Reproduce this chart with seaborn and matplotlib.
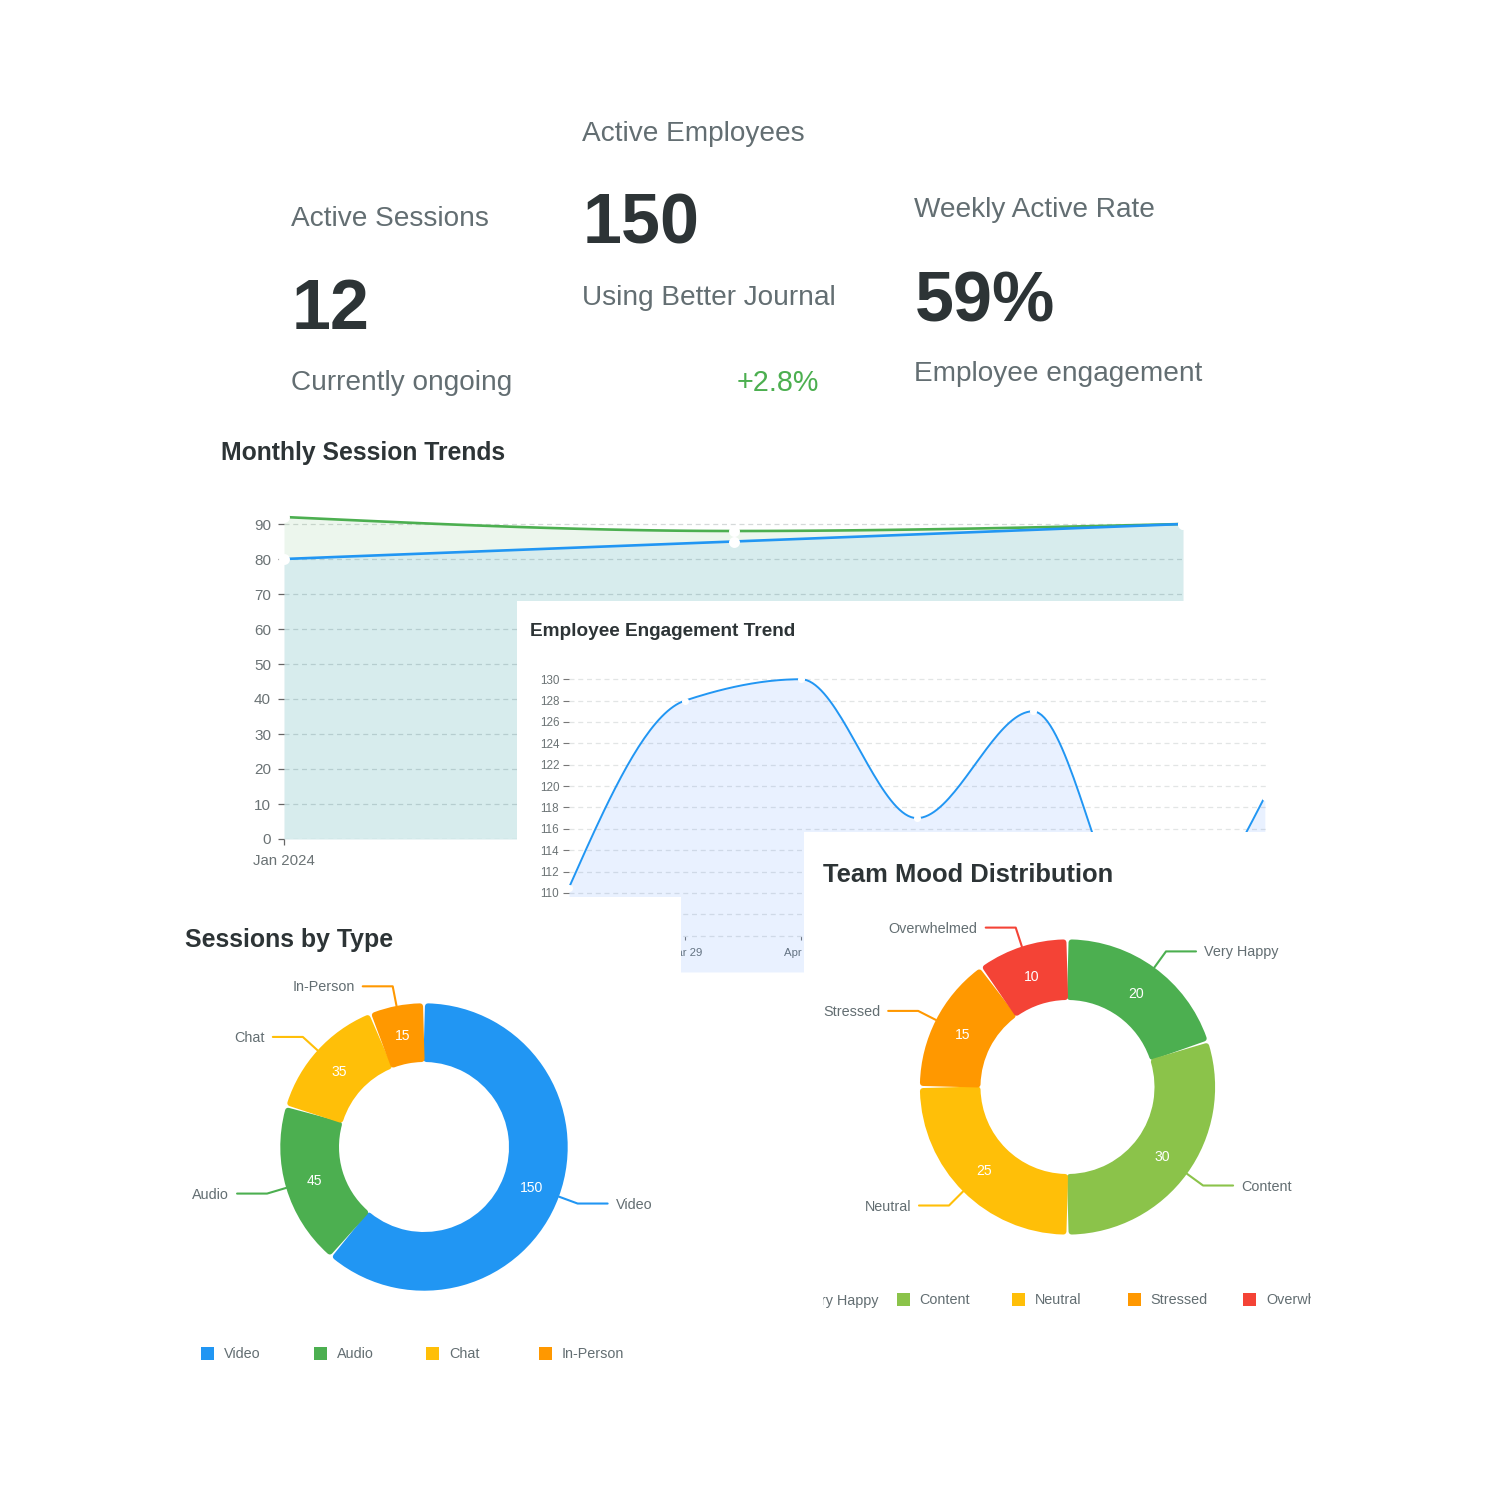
import numpy as np
import pandas as pd
import matplotlib
matplotlib.use("Agg")
import matplotlib.pyplot as plt
from matplotlib.patches import Rectangle
import seaborn as sns

# Monthly Session Trends (Feb and Mar labels sit behind the engagement card)
monthly_labels = ["Jan 2024", "", ""]
monthly_green = [92, 88, 90]
monthly_blue = [80, 85, 90]
monthly_ticks = [0, 10, 20, 30, 40, 50, 60, 70, 80, 90]

# Employee Engagement Trend (the low point and most labels sit behind the other cards)
engagement_labels = ["", "Mar 29", "Apr 05", "", "", "", ""]
engagement_values = [110.5, 128, 130, 117, 127, 105, 119]
engagement_ticks = [106, 108, 110, 112, 114, 116, 118, 120, 122, 124, 126, 128, 130]
engagement_tick_labels = ["", "", "110", "112", "114", "116", "118", "120", "122", "124", "126", "128", "130"]

# Sessions by Type
session_types = ["Video", "Audio", "Chat", "In-Person"]
session_counts = [150, 45, 35, 15]
session_colors = ["#2196f3", "#4caf50", "#ffbf08", "#ff9800"]

# Team Mood Distribution
moods = ["Very Happy", "Content", "Neutral", "Stressed", "Overwhelmed"]
mood_counts = [20, 30, 25, 15, 10]
mood_colors = ["#4caf50", "#8bc34a", "#ffbf08", "#ff9800", "#f44336"]

GREY = "#636e72"
DARK = "#2d3436"
TICK = "#6b7375"
W = 1500


def px_axes(fig, x0, y0, x1, y1, zorder, white=False):
    # axes whose data coordinates are figure pixels (y flipped so that pie keeps its direction)
    ax = fig.add_axes([x0 / W, 1 - y1 / W, (x1 - x0) / W, (y1 - y0) / W], zorder=zorder)
    ax.set_xlim(x0, x1)
    ax.set_ylim(W - y1, W - y0)
    ax.set_xticks([])
    ax.set_yticks([])
    for s in ax.spines.values():
        s.set_visible(False)
    ax.set_facecolor("white" if white else "none")
    return ax


def put(ax, x, y, s, **kw):
    return ax.text(x, W - y, s, va="center", **kw)


def smooth(y, steps=40):
    # monotone cubic curve through the points, same look as the chart's smooth lines
    y = np.array(y, dtype=float)
    d = np.diff(y)
    m = np.zeros(len(y))
    for i in range(1, len(y) - 1):
        if d[i - 1] * d[i] > 0:
            m[i] = 2 * d[i - 1] * d[i] / (d[i - 1] + d[i])
    m[0] = (3 * d[0] - m[1]) / 2
    m[-1] = (3 * d[-1] - m[-2]) / 2
    xs, ys = [], []
    for i in range(len(d)):
        t = np.linspace(0, 1, steps, endpoint=i == len(d) - 1)
        xs.append(i + t)
        ys.append((2 * t**3 - 3 * t**2 + 1) * y[i] + (t**3 - 2 * t**2 + t) * m[i]
                  + (-2 * t**3 + 3 * t**2) * y[i + 1] + (t**3 - t**2) * m[i + 1])
    return pd.DataFrame({"x": np.concatenate(xs), "y": np.concatenate(ys)})


def trend_axes(fig, x0, y_top, x1, y_bottom, ylim, zorder, grid_color):
    ax = fig.add_axes([x0 / W, 1 - y_bottom / W, (x1 - x0) / W, (y_bottom - y_top) / W], zorder=zorder)
    ax.set_facecolor("none")
    for s in ax.spines.values():
        s.set_visible(False)
    ax.set_ylim(*ylim)
    ax.grid(axis="y", color=grid_color, linestyle=(0, (4, 3)), linewidth=0.9)
    ax.set_axisbelow(True)
    return ax


def donut(ax, cx, cy, outer, inner, values, names, colors, fontsize=10.1):
    edge = 3
    wedges, _ = ax.pie(values, colors=colors, startangle=90, counterclock=False,
                       center=(cx, W - cy), radius=outer - edge, frame=True,
                       wedgeprops={"width": outer - inner - 2 * edge})
    for w, name, val, col in zip(wedges, names, values, colors):
        mid = np.radians((w.theta1 + w.theta2) / 2)
        w.set_theta1(w.theta1 + 1.6)
        w.set_theta2(w.theta2 - 1.6)
        w.set_edgecolor(col)
        w.set_linewidth(2 * edge * 72 / 100)
        w.set_joinstyle("round")
        c, s = np.cos(mid), np.sin(mid)
        r = (outer + inner) / 2
        ax.text(cx + r * c, W - cy + r * s - 1.5, str(val), color="white", fontsize=fontsize,
                ha="center", va="center")
        # leader line: out along the radius, then 30 px sideways
        ex, ey = cx + (outer + 20) * c, W - cy + (outer + 20) * s
        side = 1 if c > 0 else -1
        ax.plot([cx + outer * c, ex, ex + side * 30], [W - cy + outer * s, ey, ey], color=col,
                linewidth=1.5, solid_joinstyle="round", clip_on=False)
        ax.text(ex + side * 38, ey - 1, name, color=GREY, fontsize=10.4, va="center",
                ha="left" if side > 0 else "right")


def legend_row(ax, x_start, step, y, names, colors, clip=None):
    for i, (name, col) in enumerate(zip(names, colors)):
        x = x_start + i * step
        box = ax.add_patch(Rectangle((x, W - y - 6), 13, 13, color=col, linewidth=0))
        txt = put(ax, x + 23, y + 1, name, color=GREY, fontsize=10.4, clip_on=True)
        if clip is not None:
            clip_rect = Rectangle((clip[0], W - y - 20), clip[1] - clip[0], 40, transform=ax.transData)
            box.set_clip_path(clip_rect)
            txt.set_clip_path(clip_rect)


sns.set_theme(style="white")
plt.rcParams["font.family"] = ["Liberation Sans", "DejaVu Sans"]

fig = plt.figure(figsize=(15, 15), dpi=100, facecolor="white")

# KPI row and first title, straight on the page
page = px_axes(fig, 0, 0, W, W, 0)
put(page, 291, 219, "Active Sessions", color=GREY, fontsize=20.2)
put(page, 292, 311, "12", color=DARK, fontsize=50.5, fontweight="bold")
put(page, 291, 383, "Currently ongoing", color=GREY, fontsize=20.2)
put(page, 582, 134, "Active Employees", color=GREY, fontsize=20.2)
put(page, 583, 226, "150", color=DARK, fontsize=50.5, fontweight="bold")
put(page, 582, 298, "Using Better Journal", color=GREY, fontsize=20.2)
put(page, 737, 383, "+2.8%", color="#4caf50", fontsize=20.7)
put(page, 914, 210, "Weekly Active Rate", color=GREY, fontsize=20.2)
put(page, 915, 303, "59%", color=DARK, fontsize=50.5, fontweight="bold")
put(page, 914, 374, "Employee engagement", color=GREY, fontsize=20.2)
put(page, 221, 453, "Monthly Session Trends", color=DARK, fontsize=17.8, fontweight="bold")

# Monthly Session Trends
ax1 = trend_axes(fig, 284, 510, 1183, 839, (0, 94), 1, "#d5d9d9")
x_m = np.arange(len(monthly_labels))
green_curve = smooth(monthly_green)
blue_curve = smooth(monthly_blue)
ax1.fill_between(green_curve["x"], green_curve["y"], color="#4caf50", alpha=0.1, linewidth=0)
ax1.fill_between(blue_curve["x"], blue_curve["y"], color="#2196f3", alpha=0.1, linewidth=0)
sns.lineplot(data=green_curve, x="x", y="y", color="#4caf50", linewidth=1.9, ax=ax1, errorbar=None)
sns.lineplot(data=blue_curve, x="x", y="y", color="#2196f3", linewidth=1.9, ax=ax1, errorbar=None)
for vals in (monthly_green, monthly_blue):
    sns.scatterplot(x=x_m, y=vals, color="white", s=62, linewidth=0, ax=ax1, clip_on=False, zorder=5)
ax1.set_xlim(0, 2)
ax1.set_ylim(0, 94)
ax1.set_yticks(monthly_ticks)
ax1.set_xticks(x_m, monthly_labels)
ax1.set_xlabel("")
ax1.set_ylabel("")
ax1.tick_params(axis="y", length=4.3, width=0.9, color="#666", labelcolor=TICK, labelsize=11, pad=5, left=True)
ax1.tick_params(axis="x", length=4.3, width=0.9, color="#666", labelcolor=TICK, labelsize=10.8, pad=6.5, bottom=True)

# Employee Engagement card
card2 = px_axes(fig, 517, 601, 1290, 972, 2, white=True)
put(card2, 530, 631, "Employee Engagement Trend", color=DARK, fontsize=13.7, fontweight="bold")

ax2 = trend_axes(fig, 569, 660, 1266, 972, (102.6, 131.8), 3, "#e2e5e5")
curve = smooth(engagement_values)
x_e = np.arange(len(engagement_labels))
ax2.fill_between(curve["x"], curve["y"], 102.6, color="#2979ff", alpha=0.1, linewidth=0)
sns.lineplot(data=curve, x="x", y="y", color="#2196f3", linewidth=1.4, ax=ax2, errorbar=None)
sns.scatterplot(x=x_e, y=engagement_values, color="white", s=26, linewidth=0, ax=ax2, clip_on=False, zorder=5)
ax2.set_xlim(0, 6.01)
ax2.set_ylim(102.6, 131.8)
ax2.set_yticks(engagement_ticks, engagement_tick_labels)
ax2.set_xticks(x_e, engagement_labels)
ax2.set_xlabel("")
ax2.set_ylabel("")
ax2.spines["bottom"].set_position(("data", 106))
ax2.tick_params(axis="y", length=4, width=0.8, color="#777", labelcolor=TICK, labelsize=8.4, pad=3, left=True)
ax2.tick_params(axis="x", length=3, width=0.8, color="#777", labelcolor=TICK, labelsize=8.2, pad=6, bottom=True)

# Sessions by Type card
card3 = px_axes(fig, 170, 897, 681, 1395, 4, white=True)
put(card3, 185, 940, "Sessions by Type", color=DARK, fontsize=17.9, fontweight="bold")
donut(card3, 424, 1147, 143.7, 85, session_counts, session_types, session_colors)
legend_row(card3, 201, 112.7, 1353.5, session_types, session_colors)
card3.set_xlim(170, 681)
card3.set_ylim(W - 1395, W - 897)

# Team Mood card
card4 = px_axes(fig, 804, 832, 1340, 1340, 5, white=True)
put(card4, 823, 875, "Team Mood Distribution", color=DARK, fontsize=18.35, fontweight="bold")
donut(card4, 1067.5, 1087, 147.6, 87, mood_counts, moods, mood_colors)
legend_row(card4, 781, 115.5, 1299.5, moods, mood_colors, clip=(823, 1311))
card4.set_xlim(804, 1340)
card4.set_ylim(W - 1340, W - 832)

fig.savefig("out.png", dpi=100)
